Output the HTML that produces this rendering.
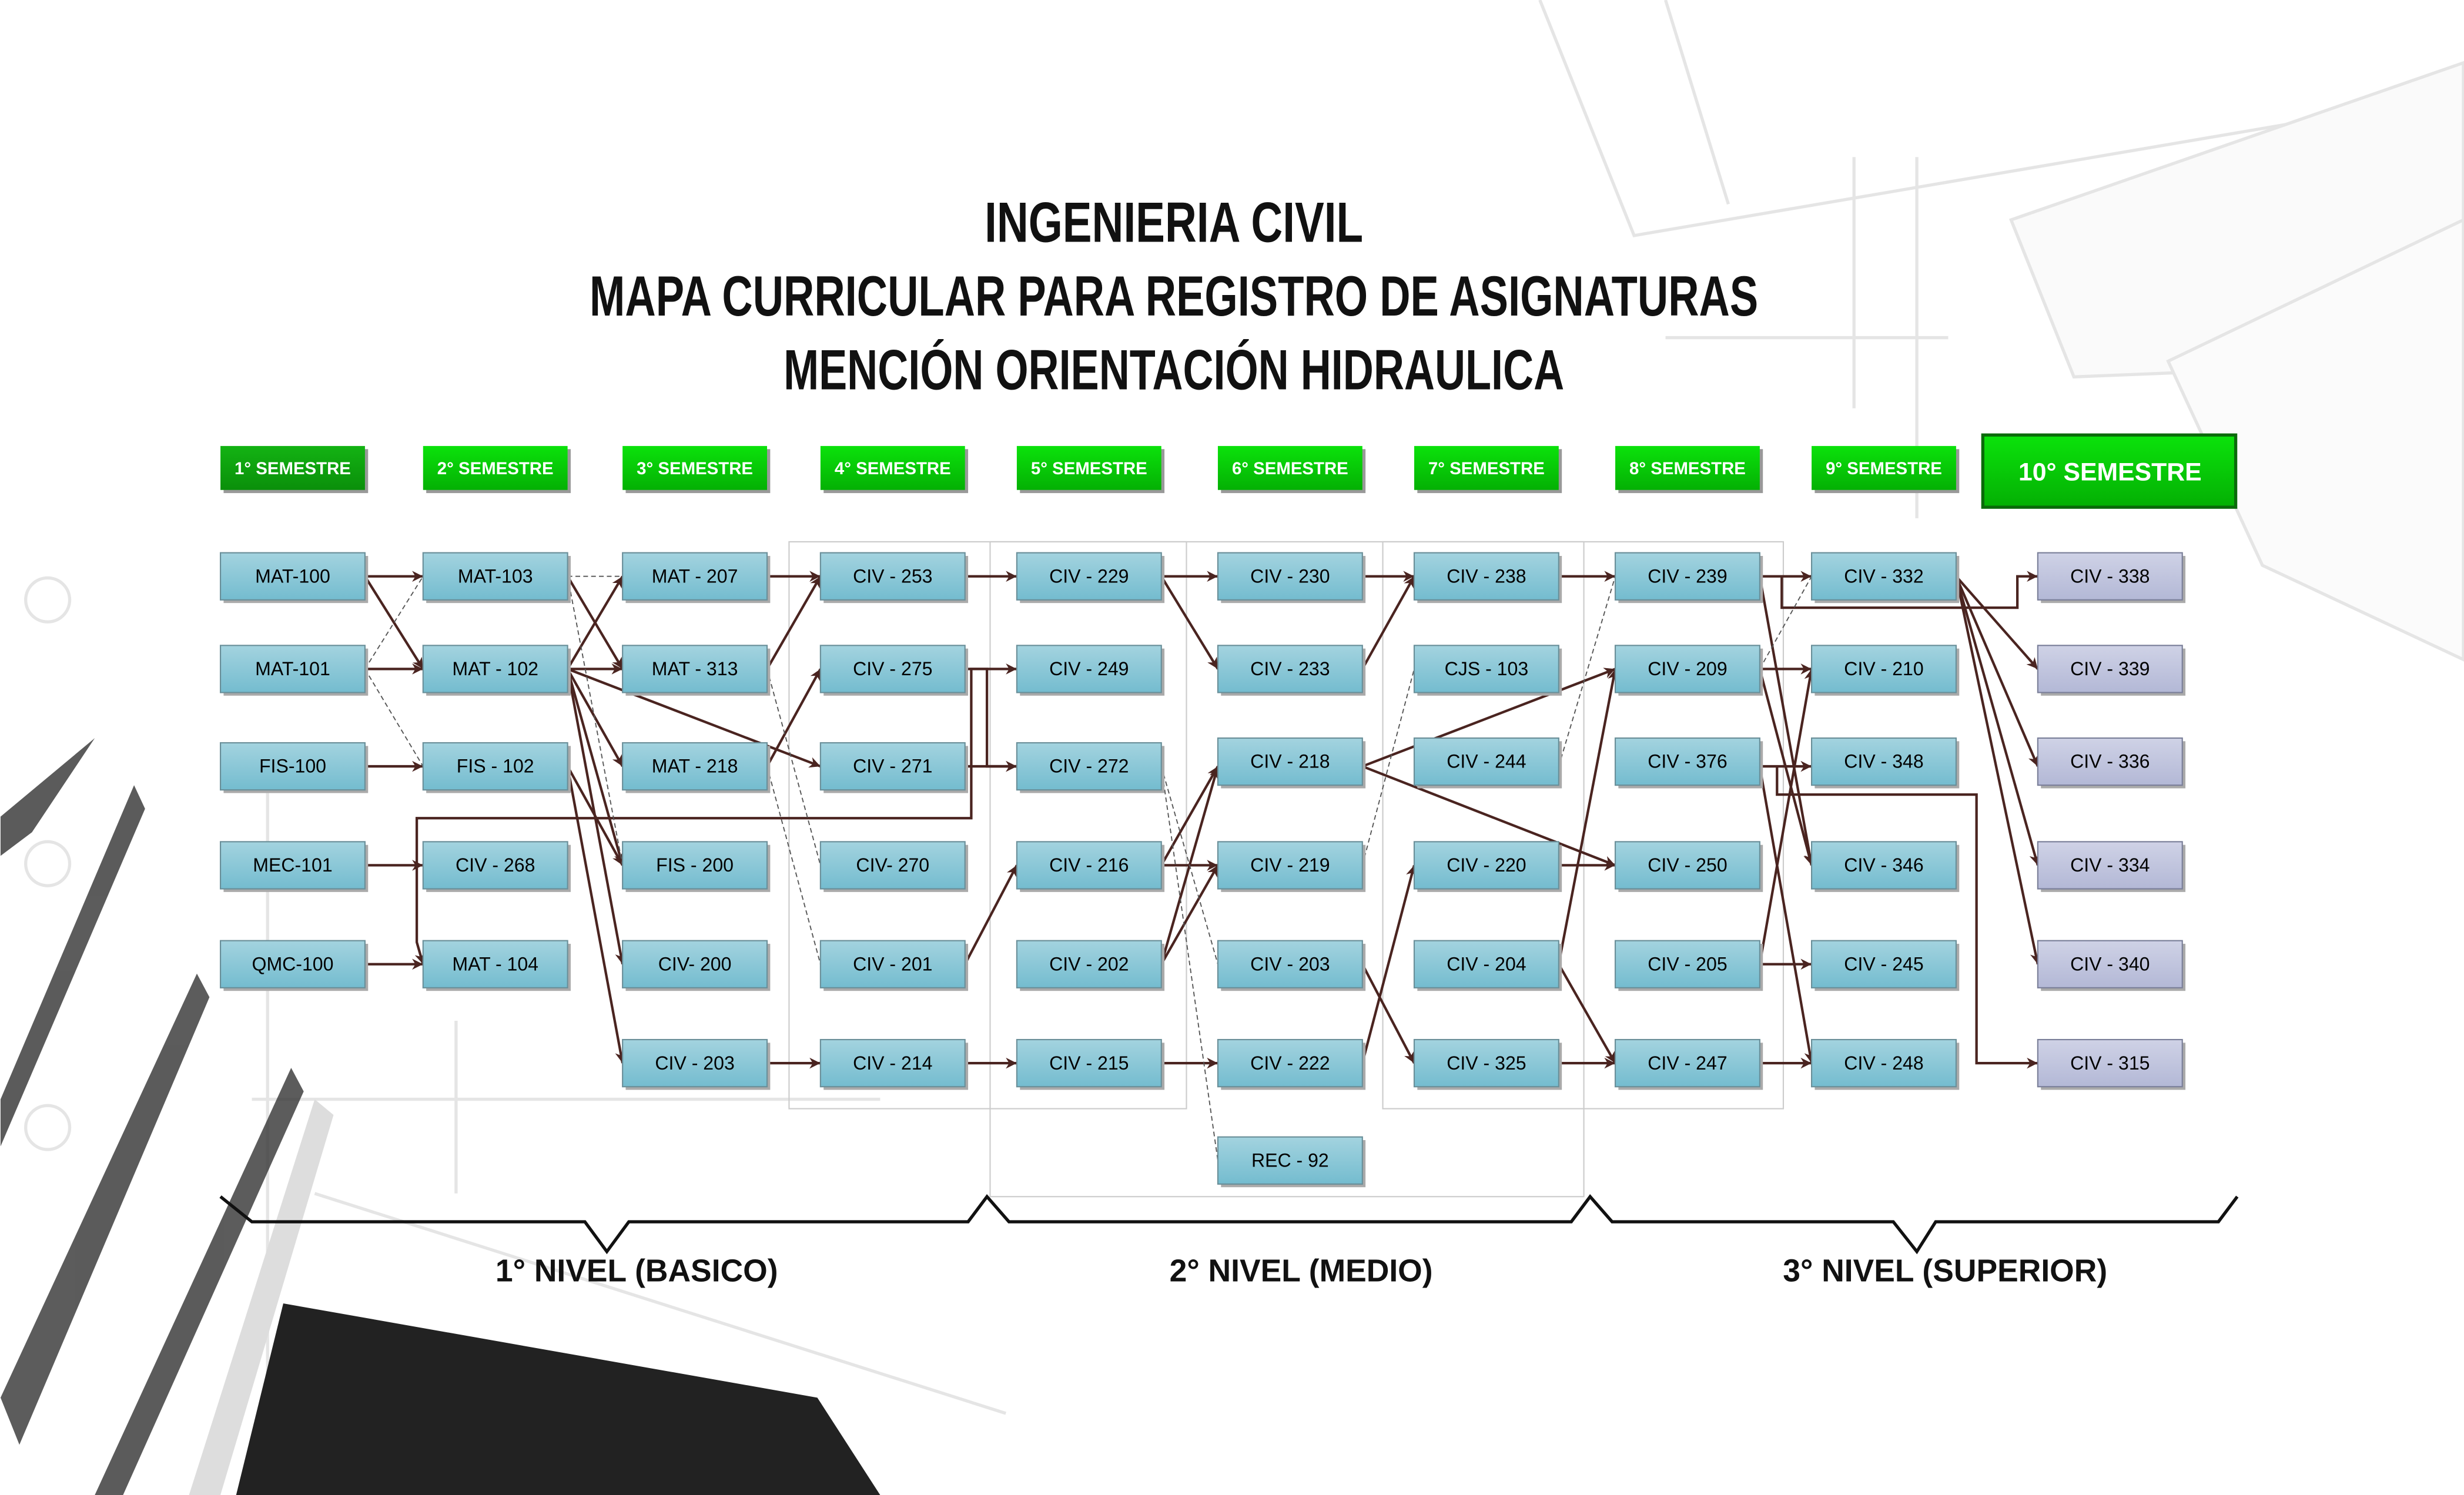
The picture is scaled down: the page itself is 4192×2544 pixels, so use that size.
<!DOCTYPE html>
<html><head><meta charset="utf-8"><style>
html,body{margin:0;padding:0;background:#fff;}
svg{display:block;}
</style></head><body>
<svg width="4192" height="2544" viewBox="0 0 1568 952" xmlns="http://www.w3.org/2000/svg">
<defs>
<linearGradient id="bl" x1="0" y1="0" x2="0" y2="1"><stop offset="0" stop-color="#a3d3df"/><stop offset="1" stop-color="#74bccf"/></linearGradient>
<linearGradient id="lv" x1="0" y1="0" x2="0" y2="1"><stop offset="0" stop-color="#cfd2e6"/><stop offset="1" stop-color="#b3b8d6"/></linearGradient>
<linearGradient id="gr" x1="0" y1="0" x2="0" y2="1"><stop offset="0" stop-color="#13b313"/><stop offset="1" stop-color="#0a8f0a"/></linearGradient>
<linearGradient id="gr2" x1="0" y1="0" x2="0" y2="1"><stop offset="0" stop-color="#0be20b"/><stop offset="1" stop-color="#04b004"/></linearGradient>
<marker id="a" viewBox="0 0 10 10" refX="10" refY="5" markerWidth="7" markerHeight="7" orient="auto" markerUnits="userSpaceOnUse"><path d="M0,0 L10,5 L0,10 L3,5z" fill="#4a2420"/></marker>
</defs>
<!-- background sketches -->
<g opacity="0.25" fill="none" stroke="#999" stroke-width="2">
<path d="M980,0 L1040,150 L1568,60"/><path d="M1060,0 L1100,130"/><path d="M1280,140 L1568,40 L1568,230 L1320,240z" fill="#eee"/>
<path d="M1380,230 L1568,140 L1568,420 L1440,360z" fill="#f2f2f2"/>
<path d="M1180,100 L1180,260"/><path d="M1220,100 L1220,330"/><path d="M1060,215 L1240,215"/>
<path d="M170,500 L170,952"/><path d="M290,650 L290,760"/><path d="M160,700 L560,700"/><path d="M200,760 L640,900"/>
<circle cx="30" cy="382" r="14"/><circle cx="30" cy="550" r="14"/><circle cx="30" cy="718" r="14"/>
</g>
<g fill="#222"><path d="M180,830 L520,890 L560,952 L150,952z"/></g>
<g fill="#333" opacity="0.8"><path d="M0,520 L60,470 L20,530 L0,545z"/><path d="M0,700 L85,500 L92,515 L0,730z"/><path d="M0,890 L125,620 L133,635 L12,920z"/><path d="M60,952 L185,680 L193,695 L78,952z"/></g>
<g fill="#ddd"><path d="M120,952 L200,700 L212,710 L140,952z"/></g>

<!-- Title -->
<g font-family="'Liberation Sans Narrow','Liberation Sans',sans-serif" font-weight="bold" font-size="36" fill="#111" text-anchor="middle">
<text x="747" y="154" textLength="241" lengthAdjust="spacingAndGlyphs">INGENIERIA CIVIL</text>
<text x="747" y="201" textLength="744" lengthAdjust="spacingAndGlyphs">MAPA CURRICULAR PARA REGISTRO DE ASIGNATURAS</text>
<text x="747" y="248" textLength="497" lengthAdjust="spacingAndGlyphs">MENCIÓN ORIENTACIÓN HIDRAULICA</text>
</g>

<!-- group frames -->
<g fill="none" stroke="#ccc" stroke-width="0.8">
<rect x="502" y="345" width="253" height="361"/><rect x="630" y="345" width="378" height="417"/><rect x="880" y="345" width="255" height="361"/>
</g>

<!-- semester headers -->
<g font-family="'Liberation Sans Narrow','Liberation Sans',sans-serif" font-weight="bold" font-size="11" fill="#fff" text-anchor="middle">
<rect x="142" y="286" width="92" height="28" fill="#999"/><rect x="140" y="284" width="92" height="28" fill="url(#gr)"/><text x="186" y="302">1° SEMESTRE</text>
<rect x="271" y="286" width="92" height="28" fill="#999"/><rect x="269" y="284" width="92" height="28" fill="url(#gr2)"/><text x="315" y="302">2° SEMESTRE</text>
<rect x="398" y="286" width="92" height="28" fill="#999"/><rect x="396" y="284" width="92" height="28" fill="url(#gr2)"/><text x="442" y="302">3° SEMESTRE</text>
<rect x="524" y="286" width="92" height="28" fill="#999"/><rect x="522" y="284" width="92" height="28" fill="url(#gr2)"/><text x="568" y="302">4° SEMESTRE</text>
<rect x="649" y="286" width="92" height="28" fill="#999"/><rect x="647" y="284" width="92" height="28" fill="url(#gr2)"/><text x="693" y="302">5° SEMESTRE</text>
<rect x="777" y="286" width="92" height="28" fill="#999"/><rect x="775" y="284" width="92" height="28" fill="url(#gr2)"/><text x="821" y="302">6° SEMESTRE</text>
<rect x="902" y="286" width="92" height="28" fill="#999"/><rect x="900" y="284" width="92" height="28" fill="url(#gr2)"/><text x="946" y="302">7° SEMESTRE</text>
<rect x="1030" y="286" width="92" height="28" fill="#999"/><rect x="1028" y="284" width="92" height="28" fill="url(#gr2)"/><text x="1074" y="302">8° SEMESTRE</text>
<rect x="1155" y="286" width="92" height="28" fill="#999"/><rect x="1153" y="284" width="92" height="28" fill="url(#gr2)"/><text x="1199" y="302">9° SEMESTRE</text>
<rect x="1261" y="276" width="163" height="48" fill="#0a6a0a"/><rect x="1263" y="278" width="159" height="44" fill="url(#gr2)"/>
<text x="1343" y="306" font-size="16" font-family="'Liberation Sans',sans-serif">10° SEMESTRE</text>
</g>

<!-- connectors -->
<g fill="none" stroke="#4a2420" stroke-width="1.6" marker-end="url(#a)">
<path d="M232,367 L269,367"/><path d="M232,367 L269,426"/><path d="M232,426 L269,426"/><path d="M232,488 L269,488"/>
<path d="M232,551 L269,551"/><path d="M265,551 L265,600 L269,614"/><path d="M232,614 L269,614"/>
<path d="M265,551 L265,521 L618,521 L618,426 L647,426"/>
<path d="M361,367 L396,426"/><path d="M361,426 L396,367"/><path d="M361,426 L396,426"/><path d="M361,426 L396,488"/><path d="M361,426 L396,551"/><path d="M361,426 L396,614"/><path d="M361,426 L522,488"/>
<path d="M361,488 L396,551"/><path d="M361,488 L396,677"/>
<path d="M488,367 L522,367"/><path d="M488,426 L522,367"/><path d="M488,488 L522,426"/><path d="M488,677 L522,677"/>
<path d="M614,367 L647,367"/><path d="M614,488 L647,488"/><path d="M614,614 L647,551"/><path d="M614,677 L647,677"/>
<path d="M614,426 L628,426 L628,488 L647,488"/>
<path d="M739,367 L775,367"/><path d="M739,367 L775,426"/><path d="M739,551 L775,488"/><path d="M739,551 L775,551"/><path d="M739,614 L775,488"/><path d="M739,614 L775,551"/><path d="M739,677 L775,677"/>
<path d="M867,367 L900,367"/><path d="M867,426 L900,367"/><path d="M867,488 L1028,426"/><path d="M867,488 L1028,551"/><path d="M867,614 L900,677"/><path d="M867,677 L900,551"/>
<path d="M992,367 L1028,367"/><path d="M992,551 L1028,551"/><path d="M992,614 L1028,426"/><path d="M992,614 L1028,677"/><path d="M992,677 L1028,677"/>
<path d="M1120,367 L1153,367"/><path d="M1120,367 L1153,551"/><path d="M1120,426 L1153,426"/><path d="M1120,426 L1153,551"/><path d="M1120,488 L1153,488"/><path d="M1120,488 L1153,677"/>
<path d="M1120,614 L1153,426"/><path d="M1120,614 L1153,614"/><path d="M1120,677 L1153,677"/>
<path d="M1134,367 L1134,387 L1284,387 L1284,367 L1297,367"/>
<path d="M1131,488 L1131,506 L1258,506 L1258,677 L1297,677"/>
<path d="M1245,367 L1297,426"/><path d="M1245,367 L1297,488"/><path d="M1245,367 L1297,551"/><path d="M1245,367 L1297,614"/>
</g>
<g fill="none" stroke="#555" stroke-width="0.7" stroke-dasharray="3,2">
<path d="M232,426 L269,367"/><path d="M232,426 L269,488"/><path d="M361,367 L396,367"/><path d="M361,367 L396,551"/><path d="M488,426 L522,551"/><path d="M488,488 L522,614"/>
<path d="M739,488 L775,614"/><path d="M739,488 L775,739"/><path d="M867,551 L900,426"/><path d="M992,488 L1028,367"/><path d="M1120,426 L1153,367"/>
</g>

<g font-family="'Liberation Sans',sans-serif" font-size="12" text-anchor="middle" stroke-width="0.8">
<g transform="translate(140,352)"><rect x="2" y="2" width="92" height="30" fill="#aaa"/><rect width="92" height="30" fill="url(#bl)" stroke="#6a8f99"/><text x="46" y="19">MAT-100</text></g>
<g transform="translate(140,411)"><rect x="2" y="2" width="92" height="30" fill="#aaa"/><rect width="92" height="30" fill="url(#bl)" stroke="#6a8f99"/><text x="46" y="19">MAT-101</text></g>
<g transform="translate(140,473)"><rect x="2" y="2" width="92" height="30" fill="#aaa"/><rect width="92" height="30" fill="url(#bl)" stroke="#6a8f99"/><text x="46" y="19">FIS-100</text></g>
<g transform="translate(140,536)"><rect x="2" y="2" width="92" height="30" fill="#aaa"/><rect width="92" height="30" fill="url(#bl)" stroke="#6a8f99"/><text x="46" y="19">MEC-101</text></g>
<g transform="translate(140,599)"><rect x="2" y="2" width="92" height="30" fill="#aaa"/><rect width="92" height="30" fill="url(#bl)" stroke="#6a8f99"/><text x="46" y="19">QMC-100</text></g>
<g transform="translate(269,352)"><rect x="2" y="2" width="92" height="30" fill="#aaa"/><rect width="92" height="30" fill="url(#bl)" stroke="#6a8f99"/><text x="46" y="19">MAT-103</text></g>
<g transform="translate(269,411)"><rect x="2" y="2" width="92" height="30" fill="#aaa"/><rect width="92" height="30" fill="url(#bl)" stroke="#6a8f99"/><text x="46" y="19">MAT - 102</text></g>
<g transform="translate(269,473)"><rect x="2" y="2" width="92" height="30" fill="#aaa"/><rect width="92" height="30" fill="url(#bl)" stroke="#6a8f99"/><text x="46" y="19">FIS - 102</text></g>
<g transform="translate(269,536)"><rect x="2" y="2" width="92" height="30" fill="#aaa"/><rect width="92" height="30" fill="url(#bl)" stroke="#6a8f99"/><text x="46" y="19">CIV - 268</text></g>
<g transform="translate(269,599)"><rect x="2" y="2" width="92" height="30" fill="#aaa"/><rect width="92" height="30" fill="url(#bl)" stroke="#6a8f99"/><text x="46" y="19">MAT - 104</text></g>
<g transform="translate(396,352)"><rect x="2" y="2" width="92" height="30" fill="#aaa"/><rect width="92" height="30" fill="url(#bl)" stroke="#6a8f99"/><text x="46" y="19">MAT - 207</text></g>
<g transform="translate(396,411)"><rect x="2" y="2" width="92" height="30" fill="#aaa"/><rect width="92" height="30" fill="url(#bl)" stroke="#6a8f99"/><text x="46" y="19">MAT - 313</text></g>
<g transform="translate(396,473)"><rect x="2" y="2" width="92" height="30" fill="#aaa"/><rect width="92" height="30" fill="url(#bl)" stroke="#6a8f99"/><text x="46" y="19">MAT - 218</text></g>
<g transform="translate(396,536)"><rect x="2" y="2" width="92" height="30" fill="#aaa"/><rect width="92" height="30" fill="url(#bl)" stroke="#6a8f99"/><text x="46" y="19">FIS - 200</text></g>
<g transform="translate(396,599)"><rect x="2" y="2" width="92" height="30" fill="#aaa"/><rect width="92" height="30" fill="url(#bl)" stroke="#6a8f99"/><text x="46" y="19">CIV- 200</text></g>
<g transform="translate(396,662)"><rect x="2" y="2" width="92" height="30" fill="#aaa"/><rect width="92" height="30" fill="url(#bl)" stroke="#6a8f99"/><text x="46" y="19">CIV - 203</text></g>
<g transform="translate(522,352)"><rect x="2" y="2" width="92" height="30" fill="#aaa"/><rect width="92" height="30" fill="url(#bl)" stroke="#6a8f99"/><text x="46" y="19">CIV - 253</text></g>
<g transform="translate(522,411)"><rect x="2" y="2" width="92" height="30" fill="#aaa"/><rect width="92" height="30" fill="url(#bl)" stroke="#6a8f99"/><text x="46" y="19">CIV - 275</text></g>
<g transform="translate(522,473)"><rect x="2" y="2" width="92" height="30" fill="#aaa"/><rect width="92" height="30" fill="url(#bl)" stroke="#6a8f99"/><text x="46" y="19">CIV - 271</text></g>
<g transform="translate(522,536)"><rect x="2" y="2" width="92" height="30" fill="#aaa"/><rect width="92" height="30" fill="url(#bl)" stroke="#6a8f99"/><text x="46" y="19">CIV- 270</text></g>
<g transform="translate(522,599)"><rect x="2" y="2" width="92" height="30" fill="#aaa"/><rect width="92" height="30" fill="url(#bl)" stroke="#6a8f99"/><text x="46" y="19">CIV - 201</text></g>
<g transform="translate(522,662)"><rect x="2" y="2" width="92" height="30" fill="#aaa"/><rect width="92" height="30" fill="url(#bl)" stroke="#6a8f99"/><text x="46" y="19">CIV - 214</text></g>
<g transform="translate(647,352)"><rect x="2" y="2" width="92" height="30" fill="#aaa"/><rect width="92" height="30" fill="url(#bl)" stroke="#6a8f99"/><text x="46" y="19">CIV - 229</text></g>
<g transform="translate(647,411)"><rect x="2" y="2" width="92" height="30" fill="#aaa"/><rect width="92" height="30" fill="url(#bl)" stroke="#6a8f99"/><text x="46" y="19">CIV - 249</text></g>
<g transform="translate(647,473)"><rect x="2" y="2" width="92" height="30" fill="#aaa"/><rect width="92" height="30" fill="url(#bl)" stroke="#6a8f99"/><text x="46" y="19">CIV - 272</text></g>
<g transform="translate(647,536)"><rect x="2" y="2" width="92" height="30" fill="#aaa"/><rect width="92" height="30" fill="url(#bl)" stroke="#6a8f99"/><text x="46" y="19">CIV - 216</text></g>
<g transform="translate(647,599)"><rect x="2" y="2" width="92" height="30" fill="#aaa"/><rect width="92" height="30" fill="url(#bl)" stroke="#6a8f99"/><text x="46" y="19">CIV - 202</text></g>
<g transform="translate(647,662)"><rect x="2" y="2" width="92" height="30" fill="#aaa"/><rect width="92" height="30" fill="url(#bl)" stroke="#6a8f99"/><text x="46" y="19">CIV - 215</text></g>
<g transform="translate(775,352)"><rect x="2" y="2" width="92" height="30" fill="#aaa"/><rect width="92" height="30" fill="url(#bl)" stroke="#6a8f99"/><text x="46" y="19">CIV - 230</text></g>
<g transform="translate(775,411)"><rect x="2" y="2" width="92" height="30" fill="#aaa"/><rect width="92" height="30" fill="url(#bl)" stroke="#6a8f99"/><text x="46" y="19">CIV - 233</text></g>
<g transform="translate(775,470)"><rect x="2" y="2" width="92" height="30" fill="#aaa"/><rect width="92" height="30" fill="url(#bl)" stroke="#6a8f99"/><text x="46" y="19">CIV - 218</text></g>
<g transform="translate(775,536)"><rect x="2" y="2" width="92" height="30" fill="#aaa"/><rect width="92" height="30" fill="url(#bl)" stroke="#6a8f99"/><text x="46" y="19">CIV - 219</text></g>
<g transform="translate(775,599)"><rect x="2" y="2" width="92" height="30" fill="#aaa"/><rect width="92" height="30" fill="url(#bl)" stroke="#6a8f99"/><text x="46" y="19">CIV - 203</text></g>
<g transform="translate(775,662)"><rect x="2" y="2" width="92" height="30" fill="#aaa"/><rect width="92" height="30" fill="url(#bl)" stroke="#6a8f99"/><text x="46" y="19">CIV - 222</text></g>
<g transform="translate(775,724)"><rect x="2" y="2" width="92" height="30" fill="#aaa"/><rect width="92" height="30" fill="url(#bl)" stroke="#6a8f99"/><text x="46" y="19">REC - 92</text></g>
<g transform="translate(900,352)"><rect x="2" y="2" width="92" height="30" fill="#aaa"/><rect width="92" height="30" fill="url(#bl)" stroke="#6a8f99"/><text x="46" y="19">CIV - 238</text></g>
<g transform="translate(900,411)"><rect x="2" y="2" width="92" height="30" fill="#aaa"/><rect width="92" height="30" fill="url(#bl)" stroke="#6a8f99"/><text x="46" y="19">CJS - 103</text></g>
<g transform="translate(900,470)"><rect x="2" y="2" width="92" height="30" fill="#aaa"/><rect width="92" height="30" fill="url(#bl)" stroke="#6a8f99"/><text x="46" y="19">CIV - 244</text></g>
<g transform="translate(900,536)"><rect x="2" y="2" width="92" height="30" fill="#aaa"/><rect width="92" height="30" fill="url(#bl)" stroke="#6a8f99"/><text x="46" y="19">CIV - 220</text></g>
<g transform="translate(900,599)"><rect x="2" y="2" width="92" height="30" fill="#aaa"/><rect width="92" height="30" fill="url(#bl)" stroke="#6a8f99"/><text x="46" y="19">CIV - 204</text></g>
<g transform="translate(900,662)"><rect x="2" y="2" width="92" height="30" fill="#aaa"/><rect width="92" height="30" fill="url(#bl)" stroke="#6a8f99"/><text x="46" y="19">CIV - 325</text></g>
<g transform="translate(1028,352)"><rect x="2" y="2" width="92" height="30" fill="#aaa"/><rect width="92" height="30" fill="url(#bl)" stroke="#6a8f99"/><text x="46" y="19">CIV - 239</text></g>
<g transform="translate(1028,411)"><rect x="2" y="2" width="92" height="30" fill="#aaa"/><rect width="92" height="30" fill="url(#bl)" stroke="#6a8f99"/><text x="46" y="19">CIV - 209</text></g>
<g transform="translate(1028,470)"><rect x="2" y="2" width="92" height="30" fill="#aaa"/><rect width="92" height="30" fill="url(#bl)" stroke="#6a8f99"/><text x="46" y="19">CIV - 376</text></g>
<g transform="translate(1028,536)"><rect x="2" y="2" width="92" height="30" fill="#aaa"/><rect width="92" height="30" fill="url(#bl)" stroke="#6a8f99"/><text x="46" y="19">CIV - 250</text></g>
<g transform="translate(1028,599)"><rect x="2" y="2" width="92" height="30" fill="#aaa"/><rect width="92" height="30" fill="url(#bl)" stroke="#6a8f99"/><text x="46" y="19">CIV - 205</text></g>
<g transform="translate(1028,662)"><rect x="2" y="2" width="92" height="30" fill="#aaa"/><rect width="92" height="30" fill="url(#bl)" stroke="#6a8f99"/><text x="46" y="19">CIV - 247</text></g>
<g transform="translate(1153,352)"><rect x="2" y="2" width="92" height="30" fill="#aaa"/><rect width="92" height="30" fill="url(#bl)" stroke="#6a8f99"/><text x="46" y="19">CIV - 332</text></g>
<g transform="translate(1153,411)"><rect x="2" y="2" width="92" height="30" fill="#aaa"/><rect width="92" height="30" fill="url(#bl)" stroke="#6a8f99"/><text x="46" y="19">CIV - 210</text></g>
<g transform="translate(1153,470)"><rect x="2" y="2" width="92" height="30" fill="#aaa"/><rect width="92" height="30" fill="url(#bl)" stroke="#6a8f99"/><text x="46" y="19">CIV - 348</text></g>
<g transform="translate(1153,536)"><rect x="2" y="2" width="92" height="30" fill="#aaa"/><rect width="92" height="30" fill="url(#bl)" stroke="#6a8f99"/><text x="46" y="19">CIV - 346</text></g>
<g transform="translate(1153,599)"><rect x="2" y="2" width="92" height="30" fill="#aaa"/><rect width="92" height="30" fill="url(#bl)" stroke="#6a8f99"/><text x="46" y="19">CIV - 245</text></g>
<g transform="translate(1153,662)"><rect x="2" y="2" width="92" height="30" fill="#aaa"/><rect width="92" height="30" fill="url(#bl)" stroke="#6a8f99"/><text x="46" y="19">CIV - 248</text></g>
<g transform="translate(1297,352)"><rect x="2" y="2" width="92" height="30" fill="#aaa"/><rect width="92" height="30" fill="url(#lv)" stroke="#7a7f99"/><text x="46" y="19">CIV - 338</text></g>
<g transform="translate(1297,411)"><rect x="2" y="2" width="92" height="30" fill="#aaa"/><rect width="92" height="30" fill="url(#lv)" stroke="#7a7f99"/><text x="46" y="19">CIV - 339</text></g>
<g transform="translate(1297,470)"><rect x="2" y="2" width="92" height="30" fill="#aaa"/><rect width="92" height="30" fill="url(#lv)" stroke="#7a7f99"/><text x="46" y="19">CIV - 336</text></g>
<g transform="translate(1297,536)"><rect x="2" y="2" width="92" height="30" fill="#aaa"/><rect width="92" height="30" fill="url(#lv)" stroke="#7a7f99"/><text x="46" y="19">CIV - 334</text></g>
<g transform="translate(1297,599)"><rect x="2" y="2" width="92" height="30" fill="#aaa"/><rect width="92" height="30" fill="url(#lv)" stroke="#7a7f99"/><text x="46" y="19">CIV - 340</text></g>
<g transform="translate(1297,662)"><rect x="2" y="2" width="92" height="30" fill="#aaa"/><rect width="92" height="30" fill="url(#lv)" stroke="#7a7f99"/><text x="46" y="19">CIV - 315</text></g>
</g>

<path d="M140,762 L160,778 L372,778 L386,797 L400,778 L616,778 L628,762 L642,778 L1000,778 L1012,762 L1026,778 L1205,778 L1220,797 L1232,778 L1412,778 L1424,762" fill="none" stroke="#111" stroke-width="2"/>
<g font-family="'Liberation Sans',sans-serif" font-weight="bold" font-size="20" fill="#111" text-anchor="middle" style="white-space:pre">
<text x="405" y="816">1° NIVEL   (BASICO)</text>
<text x="828" y="816">2° NIVEL   (MEDIO)</text>
<text x="1238" y="816">3° NIVEL   (SUPERIOR)</text>
</g>
</svg>
</body></html>
